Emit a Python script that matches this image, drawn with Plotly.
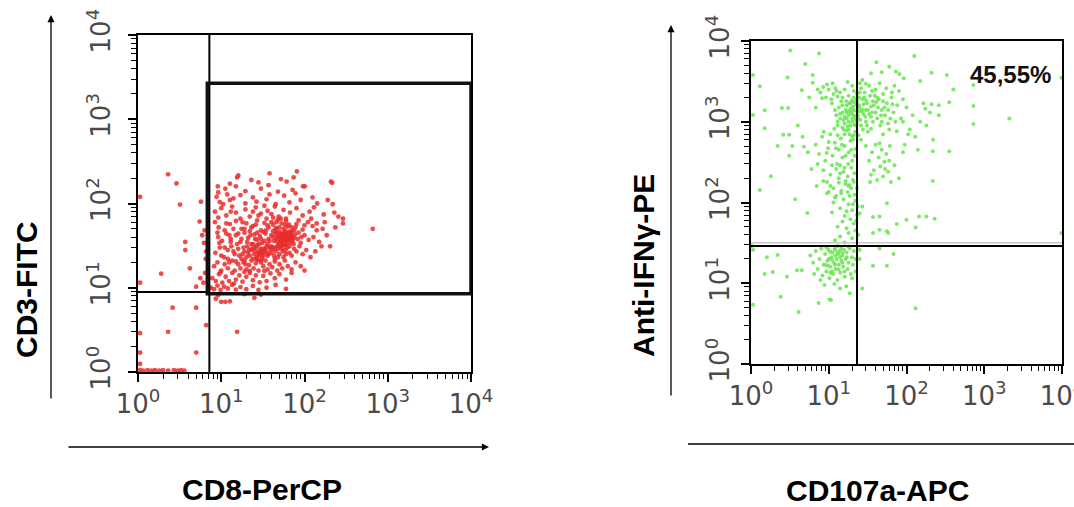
import plotly.graph_objects as go

# ---------------- Panel 1: CD8-PerCP (x) vs CD3-FITC (y) ----------------
cd8_axis_events = [(1.06, 1.05), (1.15, 1.04), (1.3, 1.05), (1.45, 1.04), (1.6, 1.05), (1.8, 1.04),
                   (2.0, 1.05), (2.3, 1.04), (2.7, 1.05), (3.0, 1.04), (3.3, 1.05), (3.6, 1.04),
                   (1.06, 1.25), (1.06, 1.7), (1.06, 2.9), (2.3, 3.0), (2.6, 5.8), (5.0, 5.8),
                   (5.0, 1.7), (6.6, 3.6)]
cd8_negative = [(1.06, 11.5), (1.06, 120), (1.9, 14.7), (2.3, 222), (2.9, 173), (3.2, 97), (5.7, 105),
                (5.5, 61), (3.7, 35), (3.7, 28), (4.2, 17), (5.6, 13), (5.0, 10.3), (6.2, 34), (6.3, 48),
                (6.5, 22), (6.4, 15), (5.9, 42), (6.1, 11.5), (6.6, 27)]
cd3_dim = [(10, 6.8), (11.2, 6.8), (12.7, 6.9), (15.5, 3.0), (25, 7.6), (8.6, 7.4), (9.2, 8.2),
           (30, 8.3), (19, 8.4)]
cd3_high = [(9.1, 160), (15.5, 204), (16, 215), (38, 228), (74, 204), (81, 240), (96, 160), (208, 182),
            (215, 176), (11.2, 150), (12.7, 172), (15, 160), (19.5, 140), (28, 178), (30, 150), (37, 165),
            (48, 138), (61, 182), (72, 145), (101, 160), (9.2, 135), (23, 190), (52, 195)]
cd3_band_100 = [(8.8, 120), (9.6, 104), (11.8, 128), (12.7, 110), (17, 126), (19.5, 100), (24, 118),
                (26.5, 105), (35, 112), (38, 128), (57, 124), (66, 103), (90, 110), (125, 118), (142, 100),
                (190, 110), (218, 98), (10.5, 98), (14, 115), (45, 98), (78, 132)]
cd3_band_80 = [(8.4, 80), (10, 88), (11.5, 72), (13.5, 92), (15, 78), (19.5, 85), (22, 70), (26, 90),
               (30, 76), (36, 82), (44, 92), (49, 70), (56, 84), (67, 78), (80, 88), (95, 72), (115, 80),
               (130, 90), (170, 74), (290, 66), (42, 68), (33, 94), (228, 78), (9.2, 68), (17, 66), (60, 66)]
cd3_band_55 = [(8.4, 60), (9.3, 52), (12.7, 57), (15, 62), (17.5, 50), (20, 58), (24, 54), (27, 63),
               (30, 48), (36, 55), (40, 60), (45, 50), (53, 58), (60, 62), (70, 52), (80, 57), (95, 49),
               (110, 60), (125, 54), (140, 58), (165, 50), (11, 48), (22, 47), (48, 64), (65, 56), (58, 47),
               (85, 63), (33, 59), (75, 48), (100, 55), (140, 48), (175, 60), (235, 52), (255, 70),
               (185, 42), (120, 66)]
cd3_band_40 = [(9.2, 40), (10.2, 36), (11.5, 44), (13, 38), (15, 42), (17, 35), (19, 45), (21, 39),
               (23, 33), (25, 43), (27, 37), (29, 41), (31, 34), (34, 44), (37, 38), (40, 42), (43, 36),
               (46, 45), (49, 40), (52, 35), (55, 43), (58, 38), (61, 44), (64, 39), (68, 41), (72, 36),
               (77, 43), (83, 38), (90, 34), (100, 42), (112, 37), (128, 40), (150, 35), (290, 58),
               (660, 50), (45, 44), (52, 41), (58, 45), (63, 38), (70, 42), (55, 37), (48, 33), (62, 34),
               (67, 45), (75, 39), (42, 40), (60, 41), (50, 46), (65, 43), (57, 40), (203, 31)]
cd3_band_28 = [(8.5, 26), (9.6, 30), (10.8, 23), (12, 28), (13.2, 31), (14.5, 25), (16, 29), (17.5, 22),
               (19, 27), (20.5, 31), (22, 24), (23.5, 28), (25, 30), (26.5, 23), (28, 26), (29.5, 29),
               (31, 22), (33, 27), (35, 31), (37, 25), (39, 28), (41, 30), (43, 24), (45, 27), (47.5, 31),
               (50, 25), (53, 29), (56, 23), (59, 28), (62, 30), (66, 26), (70, 24), (75, 29), (80, 27),
               (87, 31), (95, 25), (105, 28), (118, 23), (135, 27), (160, 31), (24, 22), (30, 26), (36, 24),
               (42, 29), (48, 23), (55, 27), (60, 25), (21, 26), (27, 32), (32, 24), (38, 30), (26, 27),
               (34, 28), (29, 25), (23, 29), (18, 25), (40, 26), (44, 22), (20, 23)]
cd3_band_18 = [(8.2, 18), (9, 20), (10, 16), (11, 19), (12, 17), (13.5, 21), (14.5, 16), (16, 19), (17, 17),
               (18.5, 20), (20, 16.5), (21.5, 18.5), (23, 21), (24.5, 17), (26, 19.5), (28, 16), (30, 20),
               (32, 18), (34, 21), (36, 16.5), (38, 19), (41, 17.5), (44, 20.5), (47, 16), (50, 19),
               (54, 17), (58, 21), (63, 18), (70, 16.5), (78, 20), (90, 18), (100, 16), (22, 15.8),
               (27, 21.2), (33, 15.8), (19, 21), (15, 20.5), (12.5, 20)]
cd3_band_13 = [(7.8, 13), (8.6, 12), (9.4, 14.5), (10.3, 11.5), (11.3, 13.5), (12.4, 12), (13.6, 15),
               (15, 12.5), (16.5, 14), (18, 11.8), (20, 13.5), (22, 15), (24, 12.3), (26, 14), (29, 11.6),
               (32, 13.8), (35, 12), (39, 14.8), (44, 13), (50, 14.5), (60, 12.5), (70, 15), (9.8, 15.3),
               (14.2, 11.2), (19, 15.4)]
cd3_band_10 = [(7.5, 10), (8.2, 9.6), (9, 10.6), (9.8, 9.4), (10.8, 10.3), (12, 9.8), (13.5, 10.8),
               (15, 9.5), (17, 10.2), (20, 9.6), (24, 10.5), (28, 9.4), (35, 10), (45, 10.8), (60, 9.7)]
cd3_peak = [(47, 36), (50, 38), (53, 34), (56, 40), (59, 36), (62, 42), (65, 37), (68, 34), (71, 40),
            (52, 44), (57, 32), (61, 38), (66, 41), (49, 42), (54, 39), (58, 35), (64, 46), (70, 38),
            (46, 39), (51, 32), (25, 25), (27, 22), (29, 27), (31, 24), (33, 29), (26, 30), (30, 21),
            (35, 26), (28, 24), (32, 27)]
cd3_core_fill = [(12, 22), (13, 35), (14, 27), (15.5, 33), (16.5, 24), (17.5, 38), (18.5, 30), (19.5, 19),
                 (20.5, 35), (21.5, 28), (22.5, 42), (24, 33), (25.5, 38), (27, 45), (28.5, 33), (30, 38),
                 (31.5, 29), (33, 36), (34.5, 48), (36, 33), (38, 36), (40, 31), (42, 47), (44, 30),
                 (46, 51), (48, 29), (50, 52), (53, 31), (56, 50), (59, 32), (62, 53), (66, 31), (70, 47),
                 (74, 33), (78, 52), (85, 45), (92, 40), (11, 30), (10, 24), (9.5, 34), (16, 44), (19, 50),
                 (23, 52), (14, 50), (26, 56), (35, 66), (18, 60), (12.5, 42), (9, 45), (28, 72), (11.5, 58),
                 (40, 75), (24, 80), (13, 80), (32, 46), (37, 52), (42, 56), (46, 60), (52, 66), (58, 56)]

# ---------------- Panel 2: CD107a-APC (x) vs Anti-IFNγ-PE (y) ----------------
ifn_sparse_left = [(3.2, 7600), (1.06, 3800), (1.3, 2760), (2.95, 3530), (4.5, 2460), (6.2, 3800),
                   (6.2, 3040), (2.5, 1480), (3.0, 1480), (1.5, 1390), (1.06, 1210), (1.5, 830),
                   (2.6, 690), (3.1, 690), (2.2, 500), (3.4, 500), (3.1, 380), (4.6, 650), (4.8, 490),
                   (5.4, 420), (1.8, 212), (1.3, 143), (3.7, 110), (5.3, 74), (5.6, 2000), (6.8, 1500),
                   (7.2, 2500), (5.0, 5200), (7.5, 7000), (4.0, 900), (6.0, 260), (7.0, 160)]
ifn_low_sparse = [(1.06, 5.4), (2.4, 6.8), (4.1, 4.4), (7.4, 5.7), (10.7, 6.2), (10.2, 6.3), (1.6, 21),
                  (2.2, 22.4), (1.5, 13), (1.9, 13.8), (2.9, 12), (3.9, 14.5), (4.5, 14.5), (1.03, 29),
                  (1.06, 26)]
ifn_low_cluster = [(5.8, 22), (6.3, 18), (6.8, 25), (7.2, 15), (7.6, 20), (8.0, 27), (8.3, 12.5), (8.6, 17),
                   (9.0, 23), (9.3, 14), (9.6, 19), (9.9, 26), (10.2, 11.5), (10.5, 16), (10.8, 21),
                   (11.1, 24), (11.4, 13), (11.7, 18), (12, 27), (12.3, 15), (12.6, 20), (12.9, 11),
                   (13.2, 23), (13.5, 17), (13.8, 25), (14.1, 13.5), (14.5, 19), (14.9, 22), (15.3, 16),
                   (15.7, 26), (16.1, 12), (16.5, 20), (17, 24), (17.5, 15), (18, 18), (18.6, 27), (19.2, 13),
                   (19.8, 21), (20.5, 17), (21, 25), (8.8, 9.5), (11.8, 9.8), (14, 8.6), (16.8, 9.2),
                   (9.4, 28), (13, 29), (17.8, 28.5), (10.4, 24.5), (12.2, 22), (11, 19.5), (13.4, 14.8),
                   (9.7, 16.6), (15, 23.6), (7.8, 11), (6.5, 13), (20, 11.5), (22, 14), (22, 20), (18.6, 7.5),
                   (10, 20), (12, 17), (14, 21), (11, 14), (13, 24), (15, 18), (9, 17), (16, 14), (12, 26),
                   (10.5, 13.5), (14.5, 27), (17, 21)]
cd107_low = [(25, 20), (37, 16.5), (56, 16.5), (68, 23), (27, 8.6), (131, 4.9), (25, 26), (45, 27)]
ifn_streak = [(12, 34), (14, 38), (16, 32), (18, 42), (20, 36), (22, 45), (13, 50), (15, 58), (17, 48),
              (19, 62), (21, 55), (23, 70), (11, 75), (14, 85), (16, 68), (18, 95), (20, 80), (22, 105),
              (12.5, 120), (15.5, 110), (17.5, 135), (19.5, 150), (21.5, 125), (10.5, 160), (13.5, 175),
              (16.5, 185), (18.5, 165), (21, 180), (23, 150), (14.5, 140), (20.5, 95), (17, 78), (22.5, 60),
              (11.5, 100), (9.5, 130), (8.5, 185), (24, 40), (23.5, 90)]
cd107_mid = [(25, 73), (27, 89), (37, 66), (45, 67), (56, 98), (75, 54), (100, 61), (131, 49), (145, 67),
             (180, 67), (230, 63), (56, 44), (45, 46), (37, 42), (58, 42)]
ifn_core_left = [(13, 900), (14, 1100), (15, 1300), (16, 950), (17, 1600), (18, 1200), (19, 1450),
                 (20, 1000), (21, 1750), (22, 1150), (23, 1350), (13.5, 1500), (14.5, 1800), (15.5, 1050),
                 (16.5, 1400), (17.5, 880), (18.5, 1700), (19.5, 1250), (20.5, 1550), (21.5, 920),
                 (22.5, 1650), (14, 1250), (16, 1150), (18, 1000), (20, 1350), (22, 1050), (15, 1600),
                 (17, 1300), (19, 900), (21, 1200), (23, 950), (12.5, 1200), (16.8, 1800), (19.8, 1850),
                 (22.8, 1900)]
ifn_top_left = [(7.8, 2300), (8.5, 2700), (9.2, 2000), (10, 2500), (10.8, 1900), (11.5, 2200), (12.2, 2600),
                (13, 2050), (9.5, 2900), (11.2, 3000), (8.2, 1950), (12.6, 2400), (14, 2300), (16, 2500),
                (18, 2100), (20, 2800), (15, 2000), (17.5, 3100), (21, 2400), (23, 2200)]
ifn_mid_left = [(6.8, 520), (7.5, 400), (8.2, 650), (9, 330), (9.8, 470), (10.5, 700), (11.2, 380),
                (12, 550), (12.8, 300), (13.5, 450), (14.3, 620), (15, 360), (16, 500), (17, 780), (18, 420),
                (19, 580), (20, 330), (21, 680), (22, 460), (8.6, 750), (10, 560), (11.8, 820), (13, 680),
                (14.8, 520), (16.5, 380), (18.5, 700), (20.5, 600), (7.2, 300), (9.4, 410), (15.6, 800),
                (17.8, 300), (21.5, 380), (12.4, 470), (19.5, 450), (11, 290), (14, 290)]
ifn_base_left = [(8.5, 250), (9.5, 180), (10.5, 220), (11.5, 150), (12.5, 260), (13.5, 200), (14.5, 130),
                 (15.5, 240), (16.5, 170), (17.5, 210), (18.5, 120), (19.5, 270), (20.5, 190), (21.5, 230),
                 (12, 115), (16, 270), (14, 230), (18, 160), (10, 135)]
ifn_core_right = [(24, 1100), (25, 1500), (26, 900), (27, 1900), (28, 1250), (29, 2300), (30, 1000),
                  (31, 1700), (32, 1400), (34, 2100), (35, 820), (36, 1300), (38, 1600), (40, 2500),
                  (42, 1100), (44, 1900), (46, 900), (48, 1400), (50, 2200), (53, 1200), (56, 1700),
                  (60, 800), (64, 2000), (68, 1300), (72, 1000), (76, 1600), (80, 2400), (85, 1100),
                  (26, 2600), (33, 2800), (45, 3000), (55, 2600), (70, 2800), (37, 1000), (52, 1500),
                  (62, 1100), (30, 1400), (41, 1750), (58, 950), (47, 1200), (35, 1150), (43, 1500),
                  (39, 2100), (28, 1650), (66, 1650), (24.5, 2000), (32, 750), (50, 700), (75, 760),
                  (90, 1900)]
ifn_core_fill = [(20, 1100), (21, 1400), (22, 900), (23.5, 1200), (24.5, 1600), (25.5, 1050), (26.5, 1350),
                 (27.5, 800), (28.5, 2000), (29.5, 1150), (31, 900), (33, 1250), (35, 1550), (37, 1800),
                 (16, 700), (18, 800), (20, 650), (22, 750), (24, 680), (26, 600), (19, 1700), (21, 2000),
                 (23, 1750), (25, 2300), (27, 1400), (17, 1100), (15, 850), (13, 1000), (12, 1400),
                 (11, 1700), (36, 2400), (42, 2000), (50, 1800), (58, 1400), (65, 2300), (48, 1000),
                 (40, 1300), (30, 1850), (24, 1350), (18, 1350)]
ifn_top_right = [(27, 3300), (35, 4000), (41, 5450), (126, 6500), (73, 4200), (81, 3900), (92, 3460),
                 (150, 3200), (210, 4050), (48, 4100), (30, 2950), (60, 4800), (25, 3000)]
ifn_wide_right = [(90, 1000), (100, 1500), (110, 800), (120, 1200), (130, 650), (150, 1000), (165, 1700),
                  (180, 900), (200, 1300), (220, 600), (95, 520), (140, 450), (105, 700), (175, 1450),
                  (210, 1650), (260, 1600)]
ifn_base_right = [(30, 500), (33, 330), (36, 420), (38, 250), (40, 520), (42, 190), (44, 360), (46, 280),
                  (48, 450), (50, 210), (52, 320), (55, 400), (58, 240), (61, 500), (63, 180), (35, 220),
                  (45, 540), (53, 260), (34, 180), (60, 330), (70, 290), (80, 200), (90, 420)]
ifn_far_right = [(330, 3800), (355, 1740), (725, 2850), (725, 1570), (725, 935), (2100, 1100), (218, 430),
                 (355, 430), (218, 185), (9800, 3500), (9800, 42), (260, 1200), (400, 2500)]

decades = [1, 10, 100, 1000, 10000]
decade_labels = ["10<sup>0</sup>", "10<sup>1</sup>", "10<sup>2</sup>", "10<sup>3</sup>", "10<sup>4</sup>"]
minor_vals = [m * d for d in [1, 10, 100, 1000] for m in range(2, 10)]

# gate positions
cd8_gate = 7.2
cd3_gate = 8.9
cd8cd3_box = (6.8, 8.5, 10000, 2680)
cd107_gate = 23.1
ifn_gate = 28.9
quadrant_label = "45,55%"


def unpack(*groups):
    xs, ys = [], []
    for g in groups:
        for a, b in g:
            xs.append(a)
            ys.append(b)
    return xs, ys


x1, y1 = unpack(cd8_axis_events, cd8_negative, cd3_dim, cd3_high, cd3_band_100, cd3_band_80,
                cd3_band_55, cd3_band_40, cd3_band_28, cd3_band_18, cd3_band_13, cd3_band_10, cd3_peak,
                cd3_core_fill)
x2, y2 = unpack(ifn_sparse_left, ifn_low_sparse, ifn_low_cluster, cd107_low, ifn_streak, cd107_mid,
                ifn_core_left, ifn_top_left, ifn_mid_left, ifn_base_left, ifn_core_right, ifn_core_fill,
                ifn_top_right, ifn_wide_right, ifn_base_right, ifn_far_right)

W, H = 1074, 507


def px(v):
    return v / W


def py(v):
    return 1 - v / H


fig = go.Figure()
fig.add_trace(go.Scatter(x=x1, y=y1, mode="markers", xaxis="x", yaxis="y",
                         marker=dict(size=4.8, color="rgba(232,45,45,0.85)", line=dict(width=0)),
                         hoverinfo="skip", showlegend=False))
fig.add_trace(go.Scatter(x=x2, y=y2, mode="markers", xaxis="x2", yaxis="y2",
                         marker=dict(size=4, color="rgba(110,232,85,0.9)", line=dict(width=0)),
                         hoverinfo="skip", showlegend=False))

tick_font = dict(family="DejaVu Sans", size=26, color="#4a4a4a")


def log_axis(domain, anchor, angle=0, standoff=0):
    return dict(type="log", range=[0, 4], domain=domain, anchor=anchor, automargin=False,
                tickvals=decades, ticktext=decade_labels, ticklabeloverflow="allow",
                ticklabelstandoff=standoff,
                tickangle=angle, ticks="outside", ticklen=8, tickwidth=1.5, tickcolor="black",
                showline=True, linewidth=2, linecolor="black", mirror=True, showgrid=False,
                zeroline=False, tickfont=tick_font, fixedrange=True,
                minor=dict(tickvals=minor_vals, ticks="outside", ticklen=5, tickwidth=1.2,
                           tickcolor="black", showgrid=False))


fig.update_layout(
    width=W, height=H, margin=dict(l=0, r=0, t=0, b=0, autoexpand=False),
    paper_bgcolor="white", plot_bgcolor="white",
    xaxis=log_axis([px(138), px(471)], "y"),
    yaxis=log_axis([py(372), py(35)], "x", angle=-90, standoff=8),
    xaxis2=log_axis([px(751), px(1062)], "y2"),
    yaxis2=log_axis([py(364), py(41)], "x2", angle=-90, standoff=2),
)

shapes = []
# CD8 / CD3 gates
shapes.append(dict(type="line", xref="x", yref="y", x0=cd8_gate, x1=cd8_gate, y0=1, y1=10000,
                   line=dict(color="black", width=2)))
shapes.append(dict(type="line", xref="x", yref="y", x0=1, x1=cd8_gate, y0=cd3_gate, y1=cd3_gate,
                   line=dict(color="black", width=2)))
bx0, by0, bx1, by1 = cd8cd3_box
shapes.append(dict(type="rect", xref="x", yref="y", x0=bx0, x1=bx1, y0=by0, y1=by1,
                   line=dict(color="#111", width=3.5)))
# CD107a / IFNγ quadrants
shapes.append(dict(type="line", xref="x2", yref="y2", x0=1, x1=10000, y0=ifn_gate * 1.1, y1=ifn_gate * 1.1,
                   line=dict(color="#c8c8c8", width=1.5)))
shapes.append(dict(type="line", xref="x2", yref="y2", x0=cd107_gate, x1=cd107_gate, y0=1, y1=10000,
                   line=dict(color="black", width=2)))
shapes.append(dict(type="line", xref="x2", yref="y2", x0=1, x1=10000, y0=ifn_gate, y1=ifn_gate,
                   line=dict(color="black", width=2)))
# baseline under the second panel
shapes.append(dict(type="line", xref="paper", yref="paper", x0=px(688), x1=1, y0=py(444), y1=py(444),
                   line=dict(color="black", width=1.3)))
fig.update_layout(shapes=shapes)

title_font = dict(family="Liberation Sans, Arial", size=30, color="black")
ann = [
    dict(x=px(26), y=py(290), text="<b>CD3-FITC</b>", textangle=-90),
    dict(x=px(262), y=py(489), text="<b>CD8-PerCP</b>"),
    dict(x=px(643), y=py(266), text="<b>Anti-IFNγ-PE</b>", textangle=-90),
    dict(x=px(877), y=py(490), text="<b>CD107a-APC</b>"),
]
for a in ann:
    a.update(xref="paper", yref="paper", showarrow=False, font=title_font, xanchor="center", yanchor="middle")
ann.append(dict(x=px(1010), y=py(75), xref="paper", yref="paper", text="<b>" + quadrant_label + "</b>",
                showarrow=False, font=dict(family="Liberation Sans, Arial", size=24, color="#111"),
                xanchor="center", yanchor="middle"))
# axis direction arrows
arrow = dict(xref="paper", yref="paper", text="", showarrow=True, arrowhead=2, arrowsize=1.1,
             arrowwidth=1.3, arrowcolor="black", axref="pixel", ayref="pixel", standoff=0)
ann.append(dict(arrow, x=px(51), y=py(15), ax=0, ay=385))
ann.append(dict(arrow, x=px(489), y=py(447), ax=-422, ay=0))
ann.append(dict(arrow, x=px(671), y=py(25), ax=0, ay=372))
fig.update_layout(annotations=ann)

fig.write_html("out.html")
